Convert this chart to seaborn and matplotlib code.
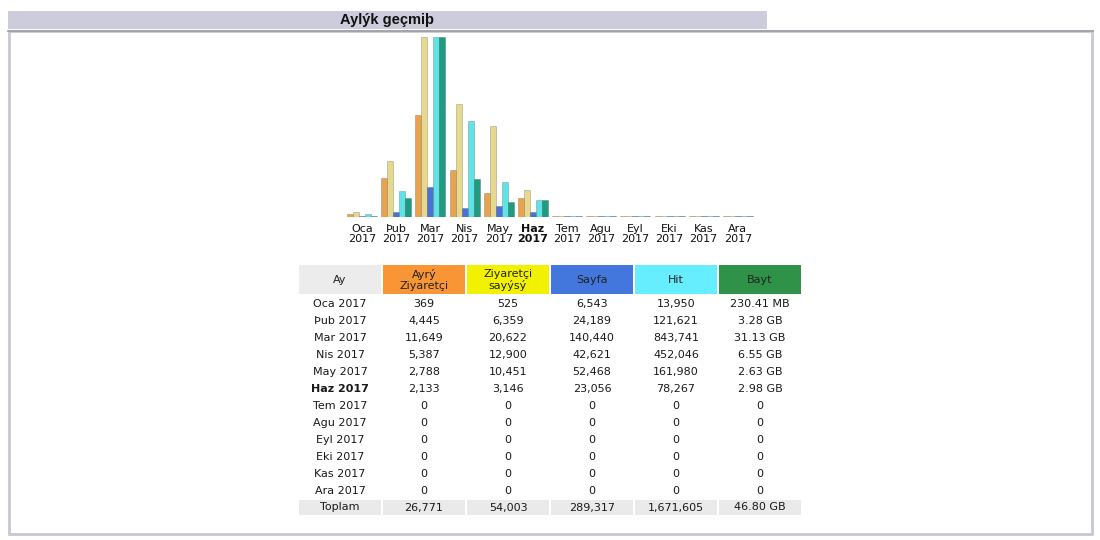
import numpy as np
import pandas as pd
import seaborn as sns
import matplotlib.pyplot as plt
from matplotlib.patches import Rectangle

# Datos mensuales (AWStats, 2017)
aylar = ["Oca", "Þub", "Mar", "Nis", "May", "Haz", "Tem", "Agu", "Eyl", "Eki", "Kas", "Ara"]
yil = "2017"
ayri_ziyaretci = [369, 4445, 11649, 5387, 2788, 2133, 0, 0, 0, 0, 0, 0]
ziyaret_sayisi = [525, 6359, 20622, 12900, 10451, 3146, 0, 0, 0, 0, 0, 0]
sayfa = [6543, 24189, 140440, 42621, 52468, 23056, 0, 0, 0, 0, 0, 0]
hit = [13950, 121621, 843741, 452046, 161980, 78267, 0, 0, 0, 0, 0, 0]
bayt_gb = [230.41 / 1024, 3.28, 31.13, 6.55, 2.63, 2.98, 0, 0, 0, 0, 0, 0]
bayt_etiket = ["230.41 MB", "3.28 GB", "31.13 GB", "6.55 GB", "2.63 GB", "2.98 GB",
               "0", "0", "0", "0", "0", "0"]
seriler = ["Ayrý Ziyaretçi", "Ziyaretçi sayýsý", "Sayfa", "Hit", "Bayt"]
basliklar = ["Ay", "Ayrý\nZiyaretçi", "Ziyaretçi\nsayýsý", "Sayfa", "Hit", "Bayt"]
bar_renk = ["#E9A24E", "#E6D88C", "#4A72D6", "#5FE3E6", "#1F9C80"]
baslik_renk = ["#ECECEC", "#F99535", "#F2F200", "#4477DD", "#66EEFF", "#2E9348"]
aktif_ay = 5

# Escalas como en AWStats: visitantes/visitas juntos, paginas/hits juntos, bytes solo
olcek = [max(ziyaret_sayisi), max(ziyaret_sayisi), max(hit), max(hit), max(bayt_gb)]
satirlar = []
for s, vals, m in zip(seriler, [ayri_ziyaretci, ziyaret_sayisi, sayfa, hit, bayt_gb], olcek):
    for ay, v in zip(aylar, vals):
        satirlar.append({"ay": ay, "seri": s, "oran": max(v / m, 0.008)})
df = pd.DataFrame(satirlar)

W, H = 1100, 540
fig = plt.figure(figsize=(W / 100, H / 100), dpi=100)
fig.patch.set_facecolor("white")

# Fondo / marco de la pagina
bg = fig.add_axes([0, 0, 1, 1])
bg.set_xlim(0, W)
bg.set_ylim(H, 0)
bg.axis("off")
bg.add_patch(Rectangle((8, 11), 759, 18, facecolor="#CCCCDD", edgecolor="none"))
bg.add_patch(Rectangle((9, 30.5), 1083, 503.5, facecolor="none", edgecolor="#C8C8D4", lw=2))
bg.plot([8, 1093], [30.5, 30.5], color="#9C9CA8", lw=1.2)
bg.text(387.5, 20, "Aylýk geçmiþ", ha="center", va="center", fontsize=10.5,
        fontweight="bold", family="Liberation Sans", color="#111111")

# Grafico de barras
ax = fig.add_axes([345 / W, (H - 217) / H, 410 / W, 180 / H])
sns.barplot(data=df, x="ay", y="oran", hue="seri", hue_order=seriler, order=aylar,
            palette=bar_renk, saturation=1, width=0.88, dodge=True, legend=False, ax=ax,
            edgecolor="#00000040", linewidth=0.5)
ax.set_ylim(0, 1)
ax.set_xlim(-0.5, len(aylar) - 0.5)
ax.set_facecolor("none")
for sp in ax.spines.values():
    sp.set_visible(False)
ax.set_yticks([])
ax.set_xlabel("")
ax.set_ylabel("")
ax.set_xticks(range(len(aylar)))
ax.set_xticklabels([f"{a}\n{yil}" for a in aylar], fontsize=8, color="#111111",
                   linespacing=1.0)
ax.tick_params(axis="x", length=0, pad=5)
ax.get_xticklabels()[aktif_ay].set_fontweight("bold")

# Tabla
col_x0 = 299
col_w = 82
col_pitch = 84
fs = 8
for j, (b, c) in enumerate(zip(basliklar, baslik_renk)):
    x = col_x0 + j * col_pitch
    bg.add_patch(Rectangle((x, 265), col_w, 29, facecolor=c, edgecolor="none"))
    bg.text(x + col_w / 2, 280, b, ha="center", va="center", fontsize=fs,
            color="#222222", linespacing=1.1)

fmt = lambda v: f"{v:,}"
for i, ay in enumerate(aylar):
    y = 304 + i * 17
    vals = [f"{ay} {yil}", fmt(ayri_ziyaretci[i]), fmt(ziyaret_sayisi[i]),
            fmt(sayfa[i]), fmt(hit[i]), bayt_etiket[i]]
    for j, v in enumerate(vals):
        x = col_x0 + j * col_pitch + col_w / 2
        bg.text(x, y, v, ha="center", va="center", fontsize=fs, color="#1a1a1a",
                fontweight="bold" if (j == 0 and i == aktif_ay) else "normal")

toplam = ["Toplam", fmt(sum(ayri_ziyaretci)), fmt(sum(ziyaret_sayisi)), fmt(sum(sayfa)),
          fmt(sum(hit)), f"{sum(bayt_gb):.2f} GB"]
for j, v in enumerate(toplam):
    x = col_x0 + j * col_pitch
    bg.add_patch(Rectangle((x, 500), col_w, 15, facecolor="#EAEAEA", edgecolor="none"))
    bg.text(x + col_w / 2, 507.5, v, ha="center", va="center", fontsize=fs, color="#1a1a1a")

fig.savefig("out.png", dpi=100)
